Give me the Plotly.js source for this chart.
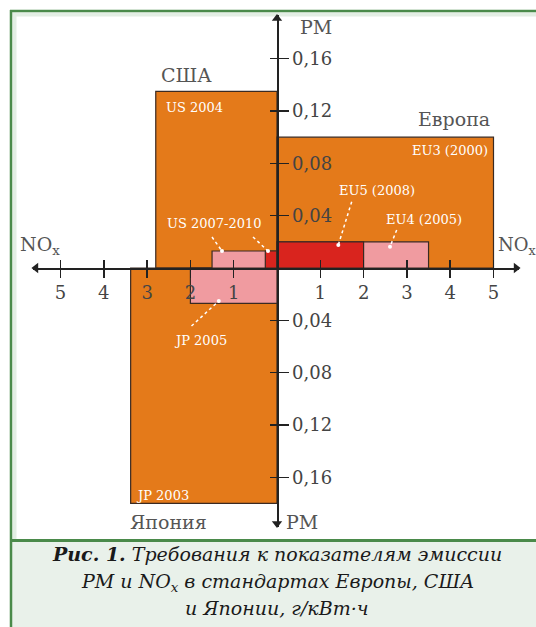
<!DOCTYPE html>
<html><head><meta charset="utf-8">
<script src="https://cdn.plot.ly/plotly-3.0.1.min.js"></script>
<style>html,body{margin:0;padding:0;background:#fff;}#chart{width:536px;height:627px;}</style>
</head><body><div id="chart"></div>
<script>
// ---- data ----
const rectNames = ['US 2004','EU3 (2000)','JP 2003','JP 2005','US 2007','US 2010','EU4 (2005)','EU5 (2008)'];
const noxLimit  = [-2.8, 5.0, -3.38, -2.0, -1.5, -0.27, 3.5, 2.0];   // g/kWh (left side = USA/Japan)
const pmLimit   = [0.135, 0.10, -0.18, -0.027, 0.013, 0.013, 0.02, 0.02]; // g/kWh (lower side = Japan)
const rectKind  = ['old','old','old','mid','mid','new','mid','new'];
const xTickVals = [-5,-4,-3,-2,-1,1,2,3,4,5];
const xTickText = ['5','4','3','2','1','1','2','3','4','5'];
const yTickVals = [-0.16,-0.12,-0.08,-0.04,0.04,0.08,0.12,0.16];
const yTickText = ['0,16','0,12','0,08','0,04','0,04','0,08','0,12','0,16'];

// ---- layout geometry ----
const W=536,H=627,L=33,R=519,T=15,B=527;
const X0=277,Y0=268,SX=43.3,SY=1308;
const xr=[(L-X0)/SX,(R-X0)/SX], yr=[(Y0-B)/SY,(Y0-T)/SY];
const PW=R-L, PH=B-T;
const px=v=>(v-L)/PW, py=v=>(B-v)/PH;
const dx=v=>(v-X0)/SX, dy=v=>(Y0-v)/SY;
const fill={old:'#E47A1A',mid:'#F09BA0',new:'#D9241E'};

const traces = rectNames.map((n,i)=>({
  type:'scatter',mode:'lines',name:n,
  x:[0,noxLimit[i],noxLimit[i],0,0],
  y:[0,0,pmLimit[i],pmLimit[i],0],
  fill:'toself',fillcolor:fill[rectKind[i]],
  line:{color:'#3a2a22',width:1.2},hoverinfo:'name'
}));
// axis arrowheads at the ends of the axis lines
const ex=(xr[1]-xr[0])*0.006, ey=(yr[1]-yr[0])*0.007;
traces.push({type:'scatter',mode:'markers',cliponaxis:false,hoverinfo:'skip',
  x:[xr[0]+ex,xr[1]-ex,0,0],y:[0,0,yr[1]-ey,yr[0]+ey],
  marker:{symbol:['triangle-left','triangle-right','triangle-up','triangle-down'],size:9,color:'#222',line:{width:0}}});
traces.push({type:'scatter',mode:'markers',x:[0],y:[0],xaxis:'x2',yaxis:'y2',marker:{opacity:0},hoverinfo:'skip'});

const serif='DejaVu Serif';
const ann=[];
function lab(t,x,y,opt){ann.push(Object.assign({text:t,x:x,y:y,xref:'x',yref:'y',showarrow:false,
  xanchor:'center',yanchor:'middle',font:{family:serif,size:13,color:'#ffffff'}},opt||{}));}
// white rect labels
lab('US 2004',-2.6,0.1225,{xanchor:'left'});
lab('EU3 (2000)',4.92,0.0895,{xanchor:'right'});
lab('EU5 (2008)',dx(377),dy(190));
lab('EU4 (2005)',dx(424),dy(219));
lab('US 2007-2010',dx(214),dy(223));
lab('JP 2005',dx(200),dy(340));
lab('JP 2003',-3.3,dy(495),{xanchor:'left'});
// region / axis labels
const g={family:serif,size:19,color:'#555'};
lab('США',dx(186),dy(75),{font:g});
lab('Европа',dx(454),dy(119),{font:g});
lab('Япония',dx(168),dy(522),{font:g});
lab('NO<sub>x</sub>',dx(40),dy(245),{font:g});
lab('NO<sub>x</sub>',dx(496),dy(246),{font:{family:serif,size:18,color:'#555'},xanchor:'left'});
lab('PM',dx(298),dy(27),{font:g,xanchor:'left'});
lab('PM',dx(284),dy(522),{font:g,xanchor:'left'});
// caption
const cf={family:serif,size:19,color:'#1a1a1a'};
function cap(t,yp){ann.push({text:t,x:px(277),y:py(yp),xref:'paper',yref:'paper',xanchor:'center',yanchor:'middle',showarrow:false,font:cf});}
cap('<b><i>Рис. 1.</i></b><i> Требования к показателям эмиссии</i>',554);
cap('<i>PM и NO<sub>x</sub> в стандартах Европы, США</i>',582);
cap('<i>и Японии, г/кВт·ч</i>',608);

// leader lines
const shapes=[];
function leader(x1,y1,x2,y2){
  shapes.push({type:'line',xref:'x',yref:'y',x0:dx(x1),y0:dy(y1),x1:dx(x2),y1:dy(y2),line:{color:'#fff',width:1.5,dash:'dot'}});
  shapes.push({type:'circle',xref:'x',yref:'y',xsizemode:'pixel',ysizemode:'pixel',xanchor:dx(x2),yanchor:dy(y2),
    x0:-2,x1:2,y0:-2,y1:2,fillcolor:'#fff',line:{width:0}});
}
leader(351.7,201.7,338.3,245);
leader(396.7,230,390,246.7);
leader(212,237,222,251);
leader(253,237,268,251);
leader(191.5,326,218.8,301);

// frame
const pb={xref:'paper',yref:'paper',layer:'below'};
shapes.push(Object.assign({type:'rect',x0:px(11),x1:px(545),y0:py(541),y1:py(640),fillcolor:'#E9F1EA',line:{width:0}},pb));
shapes.push(Object.assign({type:'rect',x0:px(12.5),x1:px(16.5),y0:py(539),y1:py(12.5),fillcolor:'#E3EEE4',line:{width:0}},pb));
shapes.push(Object.assign({type:'rect',x0:px(12.5),x1:px(545),y0:py(16.5),y1:py(12.5),fillcolor:'#E3EEE4',line:{width:0}},pb));
shapes.push(Object.assign({type:'line',x0:px(11),x1:px(11),y0:py(10),y1:py(640),line:{color:'#4A8A4A',width:2.5}},pb));
shapes.push(Object.assign({type:'line',x0:px(10),x1:px(545),y0:py(11),y1:py(11),line:{color:'#4A8A4A',width:2.5}},pb));
shapes.push(Object.assign({type:'line',x0:px(11),x1:px(545),y0:py(540.5),y1:py(540.5),line:{color:'#4A8A4A',width:3}},pb));

const tf={family:serif,size:18,color:'#444'};
const layout={
  width:W,height:H,margin:{l:L,r:W-R,t:T,b:H-B},
  paper_bgcolor:'#fff',plot_bgcolor:'rgba(0,0,0,0)',showlegend:false,
  xaxis:{range:xr,anchor:'free',position:(B-Y0)/PH,showgrid:false,zeroline:false,showline:true,linecolor:'#222',linewidth:1.5,
    tickmode:'array',tickvals:xTickVals,ticktext:xTickText,ticks:'outside',ticklen:8,tickwidth:1.5,tickcolor:'#222',tickfont:tf,fixedrange:true},
  yaxis:{range:yr,anchor:'free',position:(X0-L)/PW,side:'right',showgrid:false,zeroline:false,showline:true,linecolor:'#222',linewidth:1.5,
    tickmode:'array',tickvals:yTickVals,ticktext:yTickText,ticks:'outside',ticklen:10,tickwidth:1.5,tickcolor:'#222',tickfont:tf,fixedrange:true},
  xaxis2:{range:xr,overlaying:'x',anchor:'free',position:(B-Y0)/PH,showgrid:false,zeroline:false,showline:false,
    tickmode:'array',tickvals:xTickVals,ticks:'inside',ticklen:8,tickwidth:1.5,tickcolor:'#222',showticklabels:false},
  yaxis2:{range:yr,overlaying:'y',anchor:'free',position:(X0-L)/PW,side:'right',showgrid:false,zeroline:false,showline:false,
    tickmode:'array',tickvals:yTickVals,ticks:'inside',ticklen:7,tickwidth:1.5,tickcolor:'#222',showticklabels:false},
  annotations:ann,shapes:shapes
};
Plotly.newPlot('chart',traces,layout,{staticPlot:true,displayModeBar:false});
</script></body></html>
